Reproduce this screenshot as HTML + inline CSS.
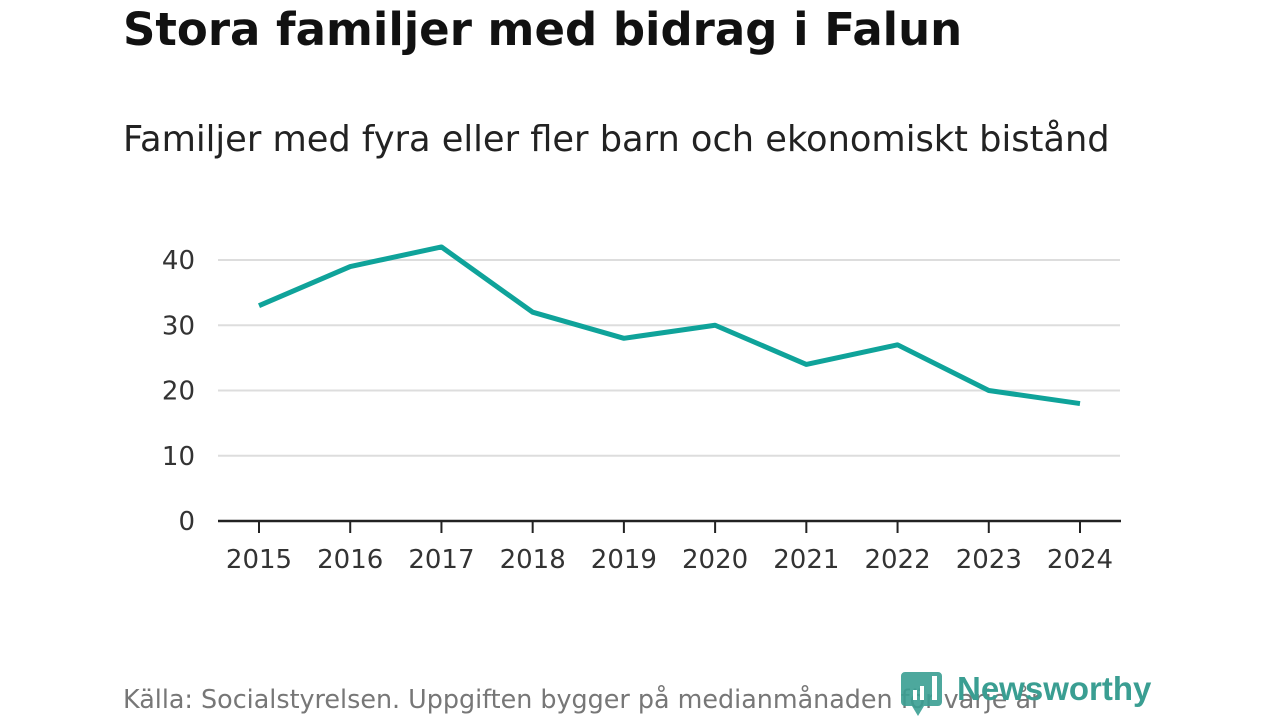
<!DOCTYPE html>
<html><head><meta charset="utf-8">
<style>
body{margin:0;width:1280px;height:720px;background:#fff;overflow:hidden;position:relative;font-family:"DejaVu Sans","Liberation Sans",sans-serif;}
#title{position:absolute;left:123px;top:3px;font-size:45px;font-weight:bold;color:#111;white-space:nowrap;}
#subtitle{position:absolute;left:123px;top:119px;font-size:35.2px;color:#222;white-space:nowrap;}
#source{position:absolute;left:123px;top:684px;font-size:25.4px;color:#777;white-space:nowrap;}
#logo-text{position:absolute;left:957px;top:670px;font-size:33px;font-weight:bold;color:#3a9e92;font-family:"Liberation Sans",sans-serif;}
svg{position:absolute;left:0;top:0;}
</style></head><body>
<div id="title">Stora familjer med bidrag i Falun</div>
<div id="subtitle">Familjer med fyra eller fler barn och ekonomiskt bistånd</div>
<svg id="chart" width="1280" height="720"></svg>
<div id="source">Källa: Socialstyrelsen. Uppgiften bygger på medianmånaden för varje år</div>
<svg width="1280" height="720" style="pointer-events:none">
<path d="M905 672 h33 a4 4 0 0 1 4 4 v26 a4 4 0 0 1 -4 4 h-14 l-6 10 l-6 -10 h-7 a4 4 0 0 1 -4 -4 v-26 a4 4 0 0 1 4 -4z" fill="#3a9e92" opacity="0.9"/>
<rect x="932" y="676" width="5" height="24" fill="#fff"/>
<rect x="913" y="690" width="4" height="10" fill="#fff"/>
<rect x="920" y="686" width="4" height="14" fill="#fff"/>
</svg>
<div id="logo-text">Newsworthy</div>
<script>
const years=["2015","2016","2017","2018","2019","2020","2021","2022","2023","2024"];
const values=[33,39,42,32,28,30,24,27,20,18];
const yTicks=[0,10,20,30,40];
const svg=document.getElementById('chart');
const NS='http://www.w3.org/2000/svg';
const x=i=>259+i*(1080-259)/(years.length-1);
const y=v=>521-v*(521-260)/40;
function mk(t,a){const e=document.createElementNS(NS,t);for(const k in a)e.setAttribute(k,a[k]);svg.appendChild(e);return e;}
yTicks.forEach(v=>{
  if(v>0){const g=mk('line',{x1:218,x2:1120,y1:y(v),y2:y(v),stroke:'#ddd','stroke-width':2});
  
  }
  const t=mk('text',{x:195,y:y(v)+9,'text-anchor':'end','font-size':26,fill:'#333','font-family':'DejaVu Sans, sans-serif'});
  t.textContent=v;
  
  
});
const ax=mk('line',{x1:218,x2:1121,y1:521,y2:521,stroke:'#222','stroke-width':2.5});


years.forEach((yr,i)=>{
  const tk=mk('line',{x1:x(i),x2:x(i),y1:521,y2:533,stroke:'#222','stroke-width':2});
  
  
  const t=mk('text',{x:x(i),y:568,'text-anchor':'middle','font-size':26,fill:'#333','font-family':'DejaVu Sans, sans-serif'});
  t.textContent=yr;
  
  
});
const p=mk('polyline',{points:values.map((v,i)=>x(i)+','+y(v)).join(' '),fill:'none',stroke:'#0fa39a','stroke-width':5,'stroke-linejoin':'round'});


</script>
</body></html>
